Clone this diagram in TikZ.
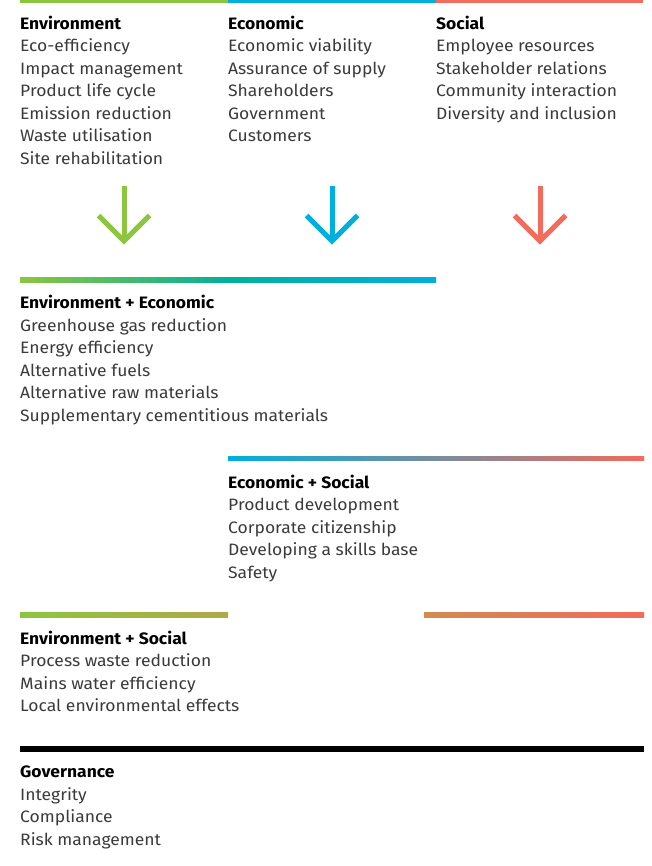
\documentclass[tikz,border=0pt]{standalone}
\usepackage{fontspec}
\setmainfont{Fira Sans}[FakeStretch=1.06]
\definecolor{cgreen}{HTML}{8CC63F}
\definecolor{cblue}{HTML}{00AEDF}
\definecolor{cred}{HTML}{F26B5B}
\definecolor{cteal}{HTML}{00B09A}
\definecolor{colive}{RGB}{175,168,72}
\definecolor{corange}{RGB}{210,138,80}
\definecolor{itemgrey}{HTML}{3A3A3A}
\begin{document}
\begin{tikzpicture}[x=1pt,y=-1pt,
  txt/.style={anchor=base west, inner sep=0pt, font=\fontsize{16.5}{20}\selectfont},
  item/.style={txt, text=itemgrey},
  head/.style={txt, text=black, font=\fontsize{16.5}{20}\selectfont\bfseries},
  arr/.style={line width=5pt, miter limit=10}]
\useasboundingbox (0,0) rectangle (652,866);
% top bars
\fill[cgreen] (20,0) rectangle (228,3.5);
\fill[cblue] (228,0) rectangle (436,3.5);
\fill[cred] (436,0) rectangle (643,3.5);
% column 1
\node[head] (envh) at (20,29.3) {Environment};
\node[item] (env1) at (20,51.8) {Eco-efficiency};
\node[item] (env2) at (20,74.3) {Impact management};
\node[item] (env3) at (20,96.8) {Product life cycle};
\node[item] (env4) at (20,119.3) {Emission reduction};
\node[item] (env5) at (20,141.8) {Waste utilisation};
\node[item] (env6) at (20,164.3) {Site rehabilitation};
% column 2
\node[head] (ecoh) at (228,29.3) {Economic};
\node[item] (eco1) at (228,51.8) {Economic viability};
\node[item] (eco2) at (228,74.3) {Assurance of supply};
\node[item] (eco3) at (228,96.8) {Shareholders};
\node[item] (eco4) at (228,119.3) {Government};
\node[item] (eco5) at (228,141.8) {Customers};
% column 3
\node[head] (soch) at (436,29.3) {Social};
\node[item] (soc1) at (436,51.8) {Employee resources};
\node[item] (soc2) at (436,74.3) {Stakeholder relations};
\node[item] (soc3) at (436,96.8) {Community interaction};
\node[item] (soc4) at (436,119.3) {Diversity and inclusion};
% arrows
\foreach \cx/\col in {124/cgreen, 332/cblue, 540/cred}{
  \draw[arr, \col] (\cx,186) -- (\cx,239);
  \draw[arr, \col] (\cx-25.5,215.5) -- (\cx,241) -- (\cx+25.5,215.5);
}
% Environment + Economic
\shade[left color=cgreen, right color=cblue, middle color=cteal] (20,277) rectangle (436,282);
\node[head] (eeh) at (20,308.5) {Environment + Economic};
\node[item] (ee1) at (20,331) {Greenhouse gas reduction};
\node[item] (ee2) at (20,353.5) {Energy efficiency};
\node[item] (ee3) at (20,376) {Alternative fuels};
\node[item] (ee4) at (20,398.5) {Alternative raw materials};
\node[item] (ee5) at (20,421) {Supplementary cementitious materials};
% Economic + Social
\shade[left color=cblue, right color=cred] (228,456) rectangle (644,460.6);
\node[head] (esh) at (228,488.3) {Economic + Social};
\node[item] (es1) at (228,510.8) {Product development};
\node[item] (es2) at (228,533.3) {Corporate citizenship};
\node[item] (es3) at (228,555.8) {Developing a skills base};
\node[item] (es4) at (228,578.3) {Safety};
% Environment + Social
\shade[left color=cgreen, right color=colive] (20,612.5) rectangle (228,617.2);
\shade[left color=corange, right color=cred] (424,612.5) rectangle (644,617.2);
\node[head] (esoh) at (20,644.3) {Environment + Social};
\node[item] (eso1) at (20,666.8) {Process waste reduction};
\node[item] (eso2) at (20,689.3) {Mains water efficiency};
\node[item] (eso3) at (20,711.8) {Local environmental effects};
% Governance
\fill[black] (20,746.2) rectangle (644,752.4);
\node[head] (govh) at (20,777.7) {Governance};
\node[item] (gov1) at (20,800.2) {Integrity};
\node[item] (gov2) at (20,822.7) {Compliance};
\node[item] (gov3) at (20,845.2) {Risk management};
\end{tikzpicture}
\end{document}
